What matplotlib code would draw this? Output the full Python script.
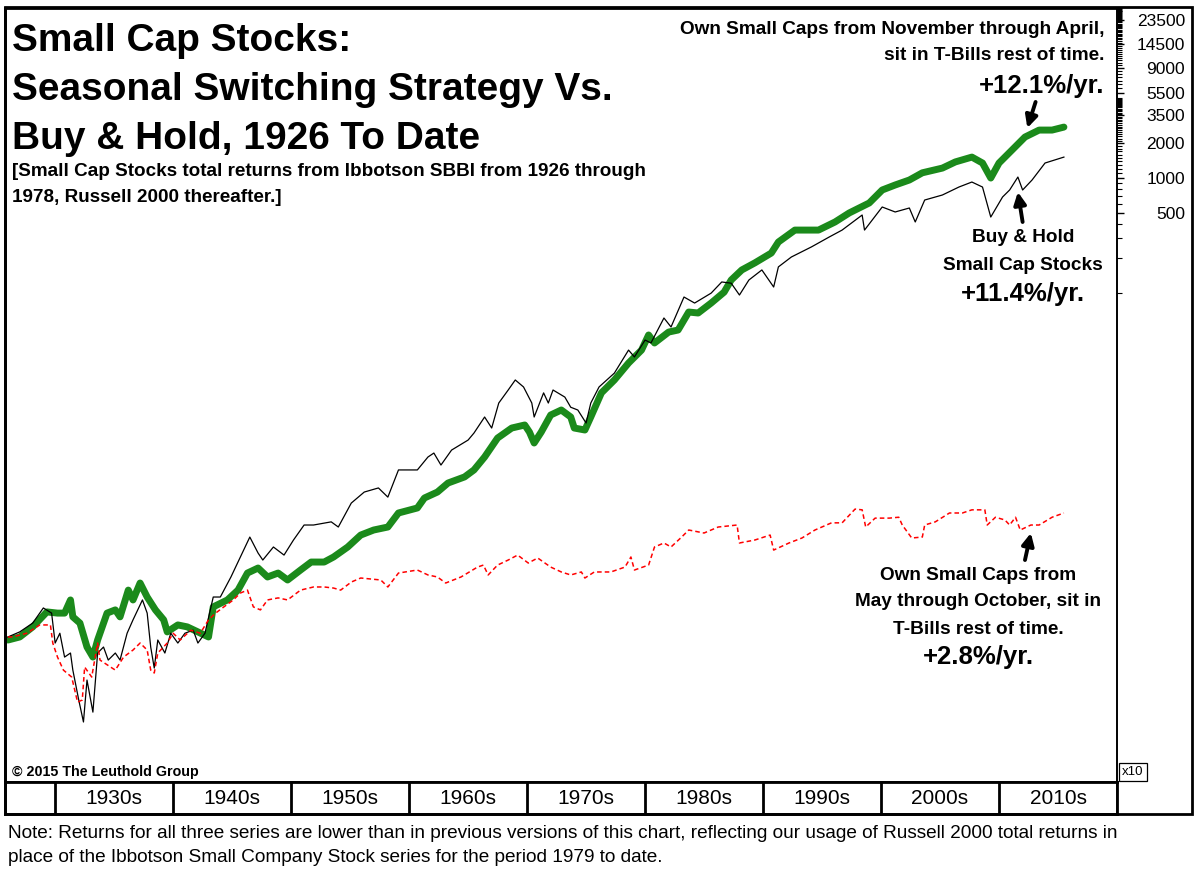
import matplotlib
matplotlib.use("Agg")
import matplotlib.pyplot as plt
from matplotlib.patches import Rectangle
from matplotlib.ticker import FixedLocator, FixedFormatter, NullFormatter

plt.rcParams['font.family'] = ['Liberation Sans', 'DejaVu Sans']

# Buy & hold small caps (black line)
bh_years = [1926.0, 1927.0, 1928.1, 1929.0, 1929.7, 1930.0, 1930.4, 1930.8, 1931.3, 1931.5,
            1932.0, 1932.4, 1932.7, 1933.2, 1933.6, 1934.1, 1934.5, 1935.1, 1935.5, 1936.1,
            1936.6, 1937.4, 1937.8, 1938.1, 1938.4, 1938.7, 1939.3, 1939.8, 1940.4, 1941.0,
            1941.7, 1942.1, 1942.7, 1943.4, 1944.0, 1944.9, 1945.7, 1946.5, 1947.2, 1947.6,
            1948.5, 1949.4, 1950.2, 1951.1, 1951.9, 1953.4, 1954.0, 1955.1, 1956.2, 1957.4,
            1958.2, 1959.1, 1960.7, 1961.6, 1962.1, 1962.7, 1963.6, 1965.0, 1965.5, 1966.4,
            1967.0, 1967.6, 1968.4, 1969.0, 1969.7, 1970.4, 1970.6, 1971.4, 1971.8, 1972.2,
            1973.2, 1973.7, 1974.3, 1975.0, 1975.4, 1976.1, 1977.4, 1978.6, 1979.1, 1980.0,
            1980.5, 1981.6, 1982.2, 1983.3, 1984.2, 1985.6, 1986.5, 1987.3, 1988.0, 1988.8,
            1989.9, 1990.9, 1991.3, 1992.4, 1994.1, 1995.6, 1996.7, 1998.4, 1998.6, 2000.1,
            2001.2, 2002.4, 2002.9, 2003.7, 2005.2, 2006.6, 2007.7, 2008.6, 2009.3, 2010.3,
            2010.9, 2011.6, 2012.0, 2012.8, 2013.9, 2015.5]
buy_hold = [0.103, 0.114, 0.136, 0.184, 0.166, 0.0912, 0.111, 0.0689, 0.0747, 0.0531,
            0.0292, 0.0188, 0.0435, 0.0229, 0.0747, 0.0842, 0.0649, 0.0747, 0.0649, 0.111,
            0.145, 0.216, 0.166, 0.0842, 0.0553, 0.0969, 0.0747, 0.111, 0.0912, 0.111,
            0.118, 0.0912, 0.111, 0.229, 0.229, 0.342, 0.510, 0.760, 0.552, 0.480,
            0.623, 0.530, 0.716, 0.967, 0.967, 1.03, 0.929, 1.50, 1.87, 2.03,
            1.69, 2.91, 2.91, 3.77, 4.08, 3.21, 4.33, 5.29, 6.09, 8.39,
            6.73, 11.1, 14.4, 17.6, 15.3, 11.1, 8.39, 13.6, 11.1, 14.4,
            12.5, 10.2, 9.65, 7.44, 11.1, 15.3, 20.2, 32.0, 27.9, 39.1,
            36.9, 60.8, 50.8, 92.5, 82.0, 100, 125, 122, 96.3, 130,
            159, 113, 169, 206, 252, 307, 353, 477, 353, 560,
            507, 549, 415, 644, 712, 835, 923, 835, 458, 684,
            787, 1020, 787, 961, 1350, 1520]

# Own small caps November-April (green line)
nov_years = [1926.0, 1927.0, 1928.1, 1929.3, 1930.2, 1930.8, 1931.3, 1931.5, 1932.1, 1932.7,
             1933.2, 1933.6, 1934.4, 1935.1, 1935.5, 1936.2, 1936.6, 1937.2, 1937.8, 1938.5,
             1939.2, 1939.5, 1940.4, 1941.2, 1942.1, 1943.0, 1943.4, 1944.6, 1945.5, 1946.3,
             1947.2, 1948.0, 1948.9, 1949.7, 1950.8, 1951.7, 1952.8, 1953.6, 1954.8, 1955.9,
             1957.0, 1958.2, 1959.1, 1960.7, 1961.3, 1962.4, 1963.3, 1964.7, 1965.5, 1966.4,
             1967.5, 1968.7, 1969.8, 1970.2, 1970.6, 1971.2, 1972.0, 1972.9, 1973.7, 1974.0,
             1974.9, 1975.4, 1976.3, 1977.4, 1978.6, 1979.7, 1980.3, 1980.8, 1982.0, 1982.8,
             1983.7, 1984.5, 1985.6, 1986.7, 1987.3, 1988.2, 1989.3, 1990.7, 1991.3, 1992.7,
             1994.7, 1996.1, 1997.3, 1999.0, 2000.1, 2001.2, 2002.4, 2003.5, 2005.2, 2006.3,
             2007.7, 2008.6, 2009.3, 2010.0, 2011.1, 2012.2, 2013.4, 2014.5, 2015.5]
nov_apr = [0.0969, 0.103, 0.126, 0.170, 0.166, 0.166, 0.216, 0.154, 0.136, 0.0842,
           0.0689, 0.0969, 0.166, 0.177, 0.154, 0.263, 0.216, 0.303, 0.229, 0.177,
           0.145, 0.114, 0.131, 0.126, 0.114, 0.103, 0.188, 0.216, 0.263, 0.370,
           0.409, 0.342, 0.370, 0.322, 0.393, 0.461, 0.461, 0.510, 0.623, 0.791,
           0.875, 0.929, 1.23, 1.36, 1.66, 1.87, 2.24, 2.53, 2.91, 3.77,
           5.51, 6.73, 7.15, 6.21, 4.99, 6.21, 8.73, 9.65, 8.39, 6.73,
           6.47, 8.39, 13.6, 17.6, 24.7, 32.0, 43.3, 36.9, 45.9, 47.8,
           68.5, 67.2, 82.0, 102, 130, 159, 183, 223, 278, 353,
           353, 415, 497, 607, 787, 870, 961, 1110, 1220, 1380,
           1520, 1350, 1000, 1350, 1750, 2270, 2610, 2610, 2770]

# Own small caps May-October (red dashed line)
may_years = [1926.0, 1926.4, 1927.6, 1928.7, 1929.6, 1929.8, 1930.2, 1930.7, 1931.4, 1931.9,
             1932.3, 1932.5, 1933.1, 1933.6, 1933.8, 1934.7, 1935.1, 1935.8, 1936.6, 1937.2,
             1937.8, 1938.1, 1938.4, 1938.7, 1939.5, 1940.0, 1940.6, 1941.5, 1942.3, 1943.0,
             1943.6, 1944.3, 1945.1, 1945.7, 1946.3, 1946.8, 1947.4, 1948.0, 1948.9, 1949.7,
             1950.8, 1951.9, 1952.8, 1953.6, 1954.2, 1955.1, 1955.9, 1957.6, 1958.2, 1959.1,
             1960.7, 1961.6, 1962.4, 1963.1, 1964.4, 1965.8, 1966.3, 1966.7, 1967.5, 1968.4,
             1969.2, 1970.1, 1970.9, 1972.0, 1972.9, 1973.7, 1974.6, 1974.9, 1975.7, 1977.1,
             1978.3, 1978.8, 1979.1, 1980.3, 1980.8, 1981.6, 1982.2, 1983.1, 1983.7, 1985.0,
             1986.2, 1987.8, 1988.0, 1989.3, 1990.6, 1990.9, 1992.2, 1993.3, 1994.4, 1995.8,
             1996.7, 1997.8, 1998.4, 1998.7, 1999.5, 2000.7, 2001.5, 2001.8, 2002.6, 2003.5,
             2003.7, 2004.6, 2005.8, 2006.9, 2007.7, 2008.8, 2009.0, 2009.7, 2010.5, 2010.9,
             2011.4, 2011.8, 2012.7, 2013.4, 2014.5, 2015.5]
may_oct = [0.103, 0.103, 0.111, 0.131, 0.131, 0.0912, 0.0689, 0.0531, 0.0462, 0.0280,
           0.0292, 0.0564, 0.0462, 0.0912, 0.0649, 0.0564, 0.0531, 0.0689, 0.0793, 0.0912,
           0.0793, 0.0531, 0.0501, 0.0747, 0.0912, 0.111, 0.0969, 0.118, 0.111, 0.145,
           0.166, 0.188, 0.216, 0.248, 0.263, 0.188, 0.177, 0.216, 0.225, 0.216,
           0.263, 0.280, 0.280, 0.274, 0.263, 0.309, 0.335, 0.322, 0.280, 0.370,
           0.393, 0.356, 0.342, 0.303, 0.342, 0.417, 0.434, 0.356, 0.434, 0.480,
           0.530, 0.452, 0.500, 0.417, 0.378, 0.356, 0.378, 0.335, 0.378, 0.378,
           0.417, 0.510, 0.393, 0.434, 0.623, 0.675, 0.623, 0.760, 0.875, 0.824,
           0.929, 0.967, 0.675, 0.716, 0.791, 0.586, 0.675, 0.746, 0.875, 1.01,
           1.01, 1.33, 1.31, 0.929, 1.11, 1.11, 1.13, 0.967, 0.746, 0.760,
           0.967, 1.03, 1.23, 1.23, 1.31, 1.31, 0.967, 1.13, 1.07, 0.967,
           1.13, 0.875, 0.967, 0.967, 1.13, 1.23]

y_labels = [500, 1000, 2000, 3500, 5500, 9000, 14500, 23500]
decades = [1930, 1940, 1950, 1960, 1970, 1980, 1990, 2000, 2010]
decade_labels = ['1930s', '1940s', '1950s', '1960s', '1970s', '1980s', '1990s', '2000s', '2010s']

W, H = 1200, 885

def fx(x):
    return x / W

def fy(y):
    return 1 - y / H

fig = plt.figure(figsize=(W / 100, H / 100), dpi=100)

# main plot
ax = fig.add_axes([fx(5), fy(782), fx(1117) - fx(5), fy(8) - fy(782)])
ax.set_yscale('log')
ax.set_xlim(1925.75, 2020)
ax.set_ylim(0.00566, 30000)

ax.plot(nov_years, nov_apr, color='#1b8a1b', lw=5, solid_joinstyle='round',
        solid_capstyle='round', zorder=2)
ax.plot(bh_years, buy_hold, color='black', lw=0.9, zorder=3)
ax.plot(may_years, may_oct, color='red', lw=1.1, ls=(0, (3, 2)), zorder=4)

ax.set_xticks([])
ax.yaxis.tick_right()
ax.yaxis.set_major_locator(FixedLocator(y_labels))
ax.yaxis.set_major_formatter(FixedFormatter([str(v) for v in y_labels]))
minor = list(range(100, 5000, 100)) + list(range(5000, 30001, 500))
ax.yaxis.set_minor_locator(FixedLocator(minor))
ax.yaxis.set_minor_formatter(NullFormatter())
ax.tick_params(axis='y', which='major', direction='out', length=5, width=1, pad=44, labelsize=12.5)
ax.tick_params(axis='y', which='minor', direction='out', length=3.5, width=0.8)
for lab in ax.get_yticklabels():
    lab.set_ha('right')

for side in ['left', 'top', 'bottom']:
    ax.spines[side].set_linewidth(2)
ax.spines['right'].set_linewidth(1.2)

# decade band
band = fig.add_axes([fx(5), fy(814), fx(1117) - fx(5), fy(782) - fy(814)])
band.set_xlim(1925.75, 2020)
band.set_ylim(0, 1)
band.set_xticks([])
band.set_yticks([])
for s in band.spines.values():
    s.set_linewidth(2)
for d, lab in zip(decades, decade_labels):
    band.axvline(d, color='black', lw=2)
    band.text(d + 5, 0.5, lab, ha='center', va='center', fontsize=15)

# outer frame
fig.add_artist(Rectangle((fx(5), fy(814)), fx(1192) - fx(5), fy(7) - fy(814),
                         transform=fig.transFigure, fill=False, lw=2, ec='black'))
fig.add_artist(plt.Line2D([fx(1117), fx(1117)], [fy(814), fy(8)], transform=fig.transFigure,
                          color='black', lw=1.2))
fig.text(fx(1133), fy(772), 'x10', ha='center', va='center', fontsize=9.5,
         bbox=dict(boxstyle='square,pad=0.25', fc='white', ec='black', lw=0.9))

# titles
for i, line in enumerate(['Small Cap Stocks:', 'Seasonal Switching Strategy Vs.',
                          'Buy & Hold, 1926 To Date']):
    fig.text(fx(12), fy(41 + 49 * i), line, fontsize=28, weight='bold', va='center')
fig.text(fx(12), fy(172), '[Small Cap Stocks total returns from Ibbotson SBBI from 1926 through',
         fontsize=13.6, weight='bold', va='center')
fig.text(fx(12), fy(197), '1978, Russell 2000 thereafter.]', fontsize=13.6, weight='bold', va='center')
fig.text(fx(12), fy(772), '\u00a9 2015 The Leuthold Group', fontsize=10.3, weight='bold', va='center')

# annotations
fs = 13.7
fig.text(fx(1104), fy(30), 'Own Small Caps from November through April,', fontsize=fs,
         weight='bold', ha='right', va='center')
fig.text(fx(1104), fy(56), 'sit in T-Bills rest of time.', fontsize=fs,
         weight='bold', ha='right', va='center')
fig.text(fx(1104), fy(86), '+12.1%/yr.', fontsize=18.5, weight='bold', ha='right', va='center')

fig.text(fx(1023), fy(237), 'Buy & Hold', fontsize=fs, weight='bold', ha='center', va='center')
fig.text(fx(1023), fy(265), 'Small Cap Stocks', fontsize=fs, weight='bold', ha='center', va='center')
fig.text(fx(1023), fy(294), '+11.4%/yr.', fontsize=18.5, weight='bold', ha='center', va='center')

fig.text(fx(978), fy(575), 'Own Small Caps from', fontsize=fs, weight='bold', ha='center', va='center')
fig.text(fx(978), fy(602), 'May through October, sit in', fontsize=fs, weight='bold',
         ha='center', va='center')
fig.text(fx(978), fy(629), 'T-Bills rest of time.', fontsize=fs, weight='bold', ha='center', va='center')
fig.text(fx(978), fy(657), '+2.8%/yr.', fontsize=18.5, weight='bold', ha='center', va='center')

arrow = dict(arrowstyle='-|>', lw=2.8, color='black', mutation_scale=18, shrinkA=0, shrinkB=0)
ax.annotate('', xy=(2012.4, 2720), xytext=(2013.1, 4580), arrowprops=arrow)
ax.annotate('', xy=(2011.6, 756), xytext=(2012.0, 415), arrowprops=arrow)
ax.annotate('', xy=(2012.7, 0.824), xytext=(2012.2, 0.48), arrowprops=arrow)

# note
fig.text(fx(8), fy(833), 'Note: Returns for all three series are lower than in previous versions of this '
         'chart, reflecting our usage of Russell 2000 total returns in', fontsize=13.7, va='center')
fig.text(fx(8), fy(857), 'place of the Ibbotson Small Company Stock series for the period 1979 to date.',
         fontsize=13.7, va='center')

fig.savefig('out.png', dpi=100)
